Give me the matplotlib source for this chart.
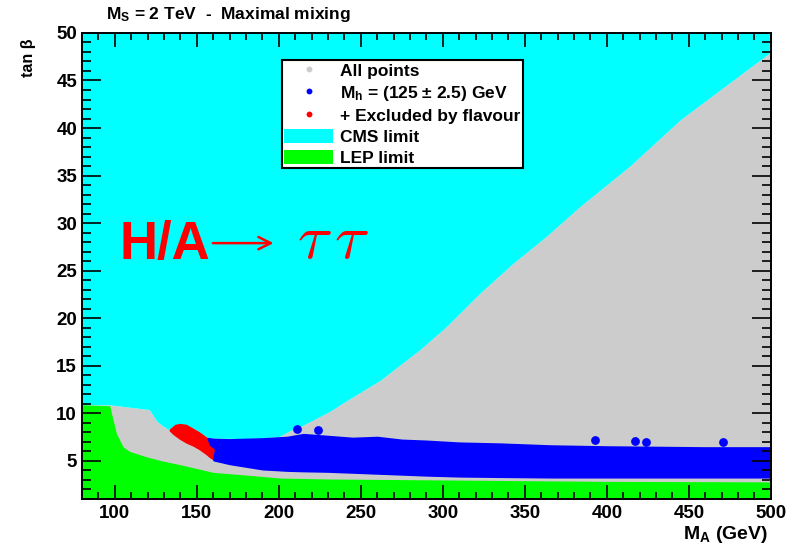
import matplotlib
matplotlib.use('Agg')
import matplotlib.pyplot as plt
from matplotlib.patches import Patch
from matplotlib.lines import Line2D
from matplotlib.ticker import MultipleLocator

plt.rcParams['font.family'] = ['Liberation Sans', 'DejaVu Sans']
plt.rcParams['font.weight'] = 'bold'
plt.rcParams['mathtext.fontset'] = 'custom'
plt.rcParams['mathtext.rm'] = 'Liberation Sans:bold'
plt.rcParams['mathtext.it'] = 'Liberation Sans:bold'
plt.rcParams['mathtext.bf'] = 'Liberation Sans:bold'

# CMS H/A -> tau tau limit: everything above is excluded
cms_ma = [80, 97, 121, 126, 132.5, 137, 140, 144, 148, 152, 156, 160, 180, 200,
          207, 213, 231, 242, 262, 286, 302, 323, 343, 363, 384, 414, 445, 500]
cms_tb = [10.9, 10.9, 10.4, 9.1, 8.3, 8.8, 8.9, 8.8, 8.4, 8.0, 7.5, 7.4, 7.35, 7.55,
          8.2, 8.6, 10.2, 11.4, 13.5, 16.7, 19.1, 22.7, 25.8, 28.6, 31.8, 36.0, 40.9, 48.0]

# LEP limit: everything below is excluded
lep_ma = [80, 97, 98, 101, 105, 109, 120, 129, 140, 150, 160, 181, 201, 231, 300, 400, 500]
lep_tb = [10.9, 10.8, 10.0, 7.9, 6.5, 6.0, 5.4, 5.0, 4.6, 4.2, 3.8, 3.5, 3.2, 3.1, 3.0, 2.85, 2.8]

# points with Mh = 125 +- 2.5 GeV
blue_ma = [156, 160, 170, 190, 205, 215, 230, 245, 260, 275, 290, 310, 335, 366, 400, 430, 460, 500]
blue_hi = [7.5, 7.4, 7.35, 7.45, 7.6, 7.9, 7.7, 7.5, 7.6, 7.3, 7.2, 7.0, 6.9, 6.7, 6.6, 6.55, 6.5, 6.5]
blue_lo = [6.5, 5.0, 4.6, 4.05, 3.9, 3.85, 3.8, 3.7, 3.6, 3.5, 3.4, 3.3, 3.25, 3.2, 3.2, 3.2, 3.2, 3.2]

# isolated Mh points sticking out above the band
blob_ma = [211, 224, 393, 417, 424, 471]
blob_tb = [8.4, 8.2, 7.2, 7.1, 7.0, 7.0]

# Mh points also excluded by flavour
red_ma = [133.5, 137, 140, 144, 148, 152, 156, 158, 161, 160, 158, 156, 152, 148, 144, 140, 136, 133.5]
red_tb = [8.3, 8.8, 8.9, 8.8, 8.4, 8.0, 7.5, 6.6, 6.2, 5.1, 5.3, 5.6, 6.1, 6.5, 6.8, 7.2, 7.7, 8.1]

c_cms = '#00ffff'
c_lep = '#00ff00'
c_all = '#cccccc'
c_mh = '#0000ff'
c_fl = '#ff0000'

fig = plt.figure(figsize=(8.02, 5.47), dpi=100)
ax = fig.add_axes([0.1022, 0.0878, 0.859, 0.852])

ax.fill_between(cms_ma, 0, cms_tb, color=c_all, lw=0)
ax.fill_between(cms_ma, cms_tb, 50, color=c_cms, lw=0)
ax.fill_between(lep_ma, 0, lep_tb, color=c_lep, lw=0)
ax.fill_between(blue_ma, blue_lo, blue_hi, color=c_mh, lw=0)
ax.scatter(blob_ma, blob_tb, s=40, color=c_mh, lw=0)
ax.fill(red_ma, red_tb, color=c_fl, lw=0)

ax.set_xlim(80, 500)
ax.set_ylim(1, 50)
ax.xaxis.set_major_locator(MultipleLocator(50))
ax.xaxis.set_minor_locator(MultipleLocator(10))
ax.yaxis.set_major_locator(MultipleLocator(5))
ax.yaxis.set_minor_locator(MultipleLocator(1))
ax.tick_params(which='both', direction='in', top=True, right=True, width=1.2, labelsize=13.5)
ax.tick_params(axis='x', which='major', length=10, pad=4)
ax.tick_params(axis='x', which='minor', length=5)
ax.tick_params(axis='y', which='major', length=13.5, pad=3.5)
ax.tick_params(axis='y', which='minor', length=6.8)
for s in ax.spines.values():
    s.set_linewidth(1.4)

handles = [
    Line2D([], [], ls='none', marker='o', ms=3.2, color=c_all),
    Line2D([], [], ls='none', marker='o', ms=3.2, color=c_mh),
    Line2D([], [], ls='none', marker='o', ms=3.2, color=c_fl),
    Patch(fc=c_cms, ec='none'),
    Patch(fc=c_lep, ec='none'),
]
labels = ['All points', r'M$_h$ = (125 $\pm$ 2.5) GeV', '+ Excluded by flavour',
          'CMS limit', 'LEP limit']
leg = ax.legend(handles, labels, loc='upper left', bbox_to_anchor=(0.290, 0.942),
                borderaxespad=0, fontsize=12.5, frameon=True, fancybox=False,
                edgecolor='black', framealpha=1, handlelength=2.8, handleheight=0.9,
                handletextpad=0.4, labelspacing=0.28, borderpad=0.15)
leg.get_frame().set_linewidth(1.5)

# channel label
ax.text(0.0552, 0.515, 'H/A', transform=ax.transAxes, fontsize=38, color='red',
        va='baseline', ha='left')
ax.annotate('', xy=(0.278, 0.549), xytext=(0.190, 0.549), xycoords='axes fraction',
            arrowprops=dict(arrowstyle='->', lw=1.8, color='red', mutation_scale=22,
                            shrinkA=0, shrinkB=0))
ax.text(0.312, 0.517, r'$\tau\,\tau$', transform=ax.transAxes, fontsize=46, color='red',
        va='baseline', ha='left', math_fontfamily='cm')

fig.text(0.132, 0.974, r'M$_S$ = 2 TeV  -  Maximal mixing', fontsize=12.5,
         ha='left', va='center')
fig.text(0.035, 0.9305, 'tan β', rotation=90, fontsize=11.5, ha='center', va='top')
fig.text(0.9576, 0.022, r'M$_A$ (GeV)', fontsize=14, ha='right', va='center')

fig.savefig('out.png', dpi=100)
